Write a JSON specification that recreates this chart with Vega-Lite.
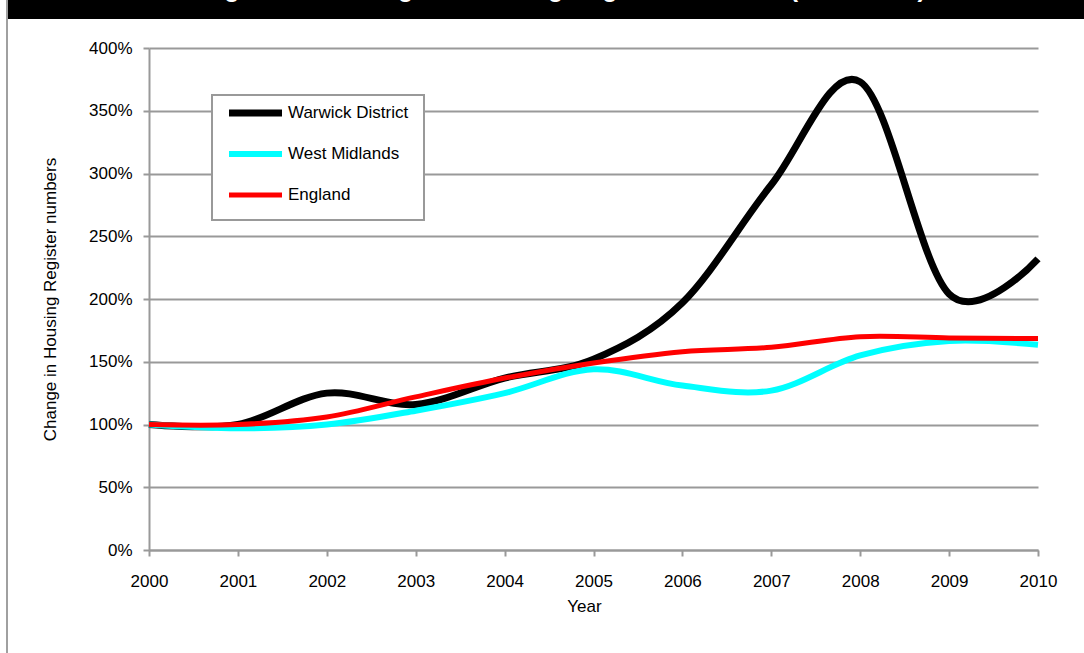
{
  "$schema": "https://vega.github.io/schema/vega-lite/v6.json",
  "padding": {"left": 6, "top": 0, "right": 0, "bottom": 0},
  "background": "white",
  "config": {
    "view": {"stroke": null},
    "font": "Liberation Sans",
    "legend": {
      "orient": "none",
      "symbolType": "stroke",
      "symbolSize": 2809,
      "labelFontSize": 17,
      "labelFont": "Liberation Sans",
      "labelColor": "#000000",
      "labelOffset": 1,
      "labelLimit": 300,
      "fillColor": "#ffffff",
      "strokeColor": "#999999",
      "padding": 15,
      "rowPadding": 15,
      "gridAlign": "all"
    }
  },
  "spacing": 0,
  "hconcat": [
    {
      "data": {"values": [{}]},
      "width": 2,
      "height": 653,
      "mark": {"type": "rect", "fill": "#a0a0a0"},
      "encoding": {}
    },
    {
      "spacing": 20,
      "vconcat": [
        {
          "data": {"values": [{"title": "Figure 3.1: Change in Housing Register numbers (2000-2010)"}]},
          "width": 1076,
          "height": 19,
          "layer": [
            {"mark": {"type": "rect", "fill": "#000000"}, "encoding": {}},
            {
              "mark": {"type": "text", "color": "#ffffff", "fontSize": 25, "fontWeight": "bold", "baseline": "alphabetic", "dy": -12.5, "dx": 18, "clip": true},
              "encoding": {"text": {"field": "title"}}
            }
          ]
        },
        {
          "spacing": 0,
          "hconcat": [
            {
              "data": {"values": [{}]},
              "width": 33,
              "height": 1,
              "mark": {"type": "rect", "fill": "#ffffff"},
              "encoding": {}
            },
            {
              "data": {
                "values": [
                  {"year": 2000, "series": "Warwick District", "value": 1.00},
                  {"year": 2001, "series": "Warwick District", "value": 1.00},
                  {"year": 2002, "series": "Warwick District", "value": 1.25},
                  {"year": 2003, "series": "Warwick District", "value": 1.16},
                  {"year": 2004, "series": "Warwick District", "value": 1.37},
                  {"year": 2005, "series": "Warwick District", "value": 1.52},
                  {"year": 2006, "series": "Warwick District", "value": 1.97},
                  {"year": 2007, "series": "Warwick District", "value": 2.91},
                  {"year": 2008, "series": "Warwick District", "value": 3.73},
                  {"year": 2009, "series": "Warwick District", "value": 2.04},
                  {"year": 2010, "series": "Warwick District", "value": 2.32},
                  {"year": 2000, "series": "West Midlands", "value": 1.00},
                  {"year": 2001, "series": "West Midlands", "value": 0.97},
                  {"year": 2002, "series": "West Midlands", "value": 1.00},
                  {"year": 2003, "series": "West Midlands", "value": 1.11},
                  {"year": 2004, "series": "West Midlands", "value": 1.25},
                  {"year": 2005, "series": "West Midlands", "value": 1.44},
                  {"year": 2006, "series": "West Midlands", "value": 1.31},
                  {"year": 2007, "series": "West Midlands", "value": 1.27},
                  {"year": 2008, "series": "West Midlands", "value": 1.55},
                  {"year": 2009, "series": "West Midlands", "value": 1.665},
                  {"year": 2010, "series": "West Midlands", "value": 1.635},
                  {"year": 2000, "series": "England", "value": 1.00},
                  {"year": 2001, "series": "England", "value": 1.00},
                  {"year": 2002, "series": "England", "value": 1.06},
                  {"year": 2003, "series": "England", "value": 1.22},
                  {"year": 2004, "series": "England", "value": 1.37},
                  {"year": 2005, "series": "England", "value": 1.49},
                  {"year": 2006, "series": "England", "value": 1.58},
                  {"year": 2007, "series": "England", "value": 1.615},
                  {"year": 2008, "series": "England", "value": 1.70},
                  {"year": 2009, "series": "England", "value": 1.69},
                  {"year": 2010, "series": "England", "value": 1.685}
                ]
              },
              "width": 889,
              "height": 502,
              "encoding": {
                "x": {
                  "field": "year",
                  "type": "quantitative",
                  "scale": {"domain": [2000, 2010], "nice": false, "zero": false},
                  "axis": {
                    "title": "Year",
                    "values": [2000, 2001, 2002, 2003, 2004, 2005, 2006, 2007, 2008, 2009, 2010],
                    "format": "d",
                    "grid": false,
                    "labelFontSize": 17,
                    "labelColor": "#000000",
                    "labelPadding": 17,
                    "labelFlush": false,
                    "labelOverlap": false,
                    "tickSize": 6,
                    "tickColor": "#999999",
                    "tickWidth": 2,
                    "domainColor": "#999999",
                    "domainWidth": 2,
                    "titleFontSize": 17,
                    "titleFontWeight": "normal",
                    "titleColor": "#000000",
                    "titlePadding": 9,
                    "titleX": 435
                  }
                },
                "y": {
                  "field": "value",
                  "type": "quantitative",
                  "scale": {"domain": [0, 4], "nice": false},
                  "axis": {
                    "title": "Change in Housing Register numbers",
                    "values": [0, 0.5, 1, 1.5, 2, 2.5, 3, 3.5, 4],
                    "format": ".0%",
                    "grid": true,
                    "gridColor": "#999999",
                    "gridWidth": 2,
                    "gridOpacity": 1,
                    "labelFontSize": 17,
                    "labelColor": "#000000",
                    "labelPadding": 11,
                    "tickSize": 6,
                    "tickColor": "#999999",
                    "tickWidth": 2,
                    "domainColor": "#999999",
                    "domainWidth": 2,
                    "titleFontSize": 17,
                    "titleFontWeight": "normal",
                    "titleColor": "#000000",
                    "titlePadding": 29
                  }
                },
                "color": {
                  "field": "series",
                  "type": "nominal",
                  "scale": {"domain": ["Warwick District", "West Midlands", "England"], "range": ["#000000", "#00ffff", "#ff0000"]},
                  "legend": {
                    "title": null, "legendX": 206, "legendY": 95,
                    "encode": {
                      "legend": {"update": {"strokeWidth": {"value": 2}}},
                      "symbols": {"update": {"x": {"value": 28.5}, "y": {"value": 3}}},
                      "labels": {"update": {"y": {"value": 3}}}
                    }
                  }
                },
                "strokeWidth": {
                  "field": "series",
                  "type": "nominal",
                  "scale": {"domain": ["Warwick District", "West Midlands", "England"], "range": [7, 5, 5]},
                  "legend": {
                    "title": null, "legendX": 206, "legendY": 95,
                    "encode": {
                      "legend": {"update": {"strokeWidth": {"value": 2}}},
                      "symbols": {"update": {"x": {"value": 28.5}, "y": {"value": 3}}},
                      "labels": {"update": {"y": {"value": 3}}}
                    }
                  }
                }
              },
              "layer": [
                {"transform": [{"filter": "datum.series === 'Warwick District'"}], "mark": {"type": "line", "interpolate": "cardinal"}},
                {"transform": [{"filter": "datum.series === 'West Midlands'"}], "mark": {"type": "line", "interpolate": "cardinal"}},
                {"transform": [{"filter": "datum.series === 'England'"}], "mark": {"type": "line", "interpolate": "cardinal"}}
              ]
            }
          ]
        }
      ]
    }
  ]
}
